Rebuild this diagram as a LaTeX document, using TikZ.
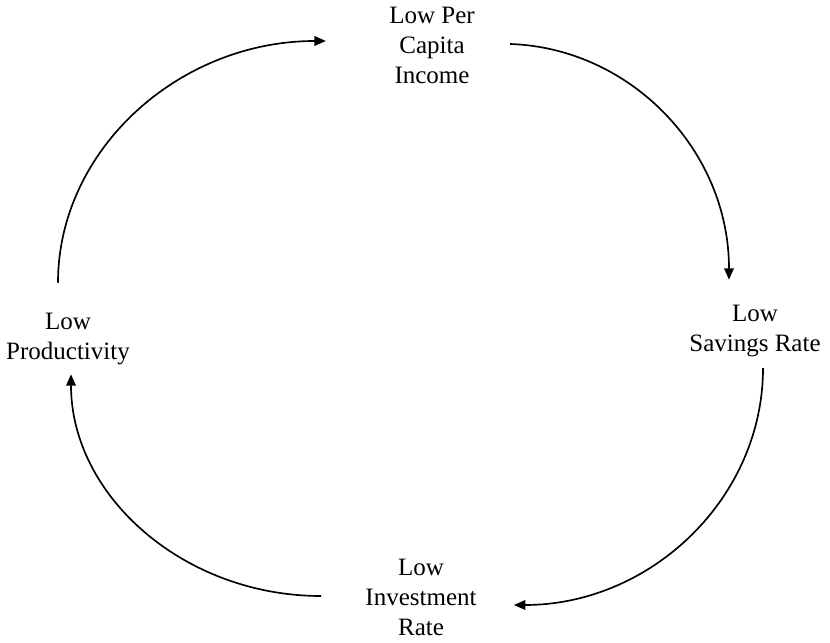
\documentclass[tikz,border=0pt]{standalone}
\usepackage{fontspec}
\setmainfont{Liberation Serif}
\usepackage{tikz}
\usetikzlibrary{arrows.meta}

\begin{document}
\begin{tikzpicture}[
  x=0.48pt, y=-0.48pt,
  stage/.style={align=center, font=\fontsize{12}{14.4}\selectfont},
  cyc/.style={-{Triangle[length=5.5pt,width=4.6pt]}, line width=0.8pt},
]
  \useasboundingbox (0,0) rectangle (830,643);

  \node[stage] (inc) at (432,45)  {Low Per\\Capita\\Income};
  \node[stage] (sav) at (755,331) {Low\\Savings Rate};
  \node[stage] (inv) at (421,597) {Low\\Investment\\Rate};
  \node[stage] (prd) at (68,339)  {Low\\Productivity};

  % the vicious circle
  \draw[cyc] ([shift={(28,-1)}]inc.east) .. controls +(120,4) and +(0,-130) .. ([shift={(-26,-18)}]sav.north);
  \draw[cyc] ([shift={(8,4)}]sav.south) .. controls +(0,130) and +(137,0) .. ([shift={(30,8)}]inv.east);
  \draw[cyc] ([shift={(-37,-1)}]inv.west) .. controls +(-137,0) and +(0,122) .. ([shift={(3,2)}]prd.south);
  \draw[cyc] ([shift={(-10,-23)}]prd.north) .. controls +(0,-133) and +(-147,0) .. ([shift={(-56,-4)}]inc.west);
\end{tikzpicture}
\end{document}
